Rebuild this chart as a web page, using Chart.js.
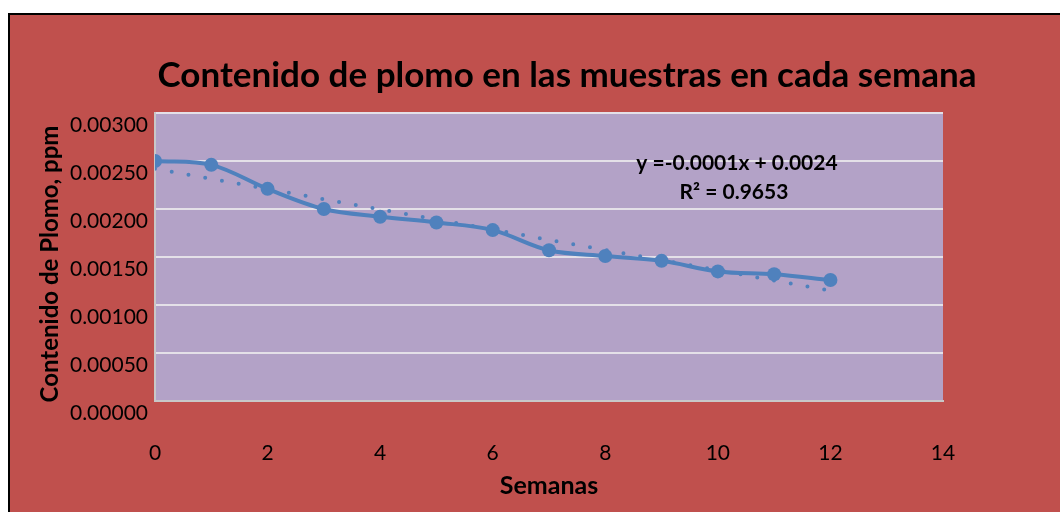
<!DOCTYPE html>
<html>
<head>
<meta charset="utf-8">
<script src="https://cdn.jsdelivr.net/npm/chart.js@4.4.1/dist/chart.umd.min.js"></script>
<style>
  html, body { margin: 0; padding: 0; background: #ffffff; overflow: hidden; }
  #marco {
    position: absolute; left: 8px; top: 13px;
    width: 1050px; height: 497px;
    border-top: 2px solid #000; border-left: 2px solid #000;
    background: #C0504D;
  }
  #grafica { display: block; }
</style>
</head>
<body>
<div id="marco"><canvas id="grafica" width="1050" height="497"></canvas></div>
<script>
// Datos
const semanas = [0, 1, 2, 3, 4, 5, 6, 7, 8, 9, 10, 11, 12];
const plomo = [0.00250, 0.00246, 0.00221, 0.00200, 0.00192, 0.00186, 0.00178,
               0.00157, 0.00151, 0.00146, 0.00135, 0.00132, 0.00126];
const tendenciaX = [0, 12];
const tendenciaY = [0.00242, 0.00115];
const titulo = 'Contenido de plomo en las muestras en cada semana';
const tituloY = 'Contenido de Plomo, ppm';
const ecuacion = ['y =-0.0001x + 0.0024', 'R² = 0.9653'];

const azul = '#4F81BD';

// Fondo lila del área de trazado, títulos y texto de la ecuación
const fondoArea = {
    id: 'fondoArea',
    beforeDraw(chart) {
        const { ctx, chartArea: a } = chart;
        ctx.save();
        ctx.fillStyle = '#B3A2C7';
        ctx.fillRect(a.left, a.top, a.right - a.left, a.bottom - a.top);
        ctx.fillStyle = '#000';
        ctx.textAlign = 'center';
        ctx.textBaseline = 'middle';
        ctx.font = 'bold 35px Lato';
        ctx.fillText(titulo, 557, 61);
        // título del eje Y, girado
        ctx.translate(40, 249);
        ctx.rotate(-Math.PI / 2);
        ctx.font = 'bold 24px Lato';
        ctx.fillText(tituloY, 0, 0);
        ctx.restore();
    },
    afterDatasetsDraw(chart) {
        const { ctx } = chart;
        const x = chart.scales.x.getPixelForValue(10.34);
        const y = chart.scales.y.getPixelForValue(0.00248);
        ctx.save();
        ctx.fillStyle = '#000';
        ctx.font = 'bold 21px Lato';
        ctx.textAlign = 'center';
        ctx.textBaseline = 'middle';
        ctx.fillText(ecuacion[0], x, y);
        ctx.fillText(ecuacion[1], x - 3, y + 29);
        ctx.restore();
    }
};

const ctx = document.getElementById('grafica').getContext('2d');
new Chart(ctx, {
    type: 'scatter',
    data: {
        datasets: [
            {
                data: semanas.map((s, i) => ({ x: s, y: plomo[i] })),
                showLine: true,
                borderColor: azul,
                backgroundColor: azul,
                borderWidth: 4,
                pointRadius: 7,
                pointBorderWidth: 0,
                tension: 0.35,
            },
            {
                data: tendenciaX.map((s, i) => ({ x: s, y: tendenciaY[i] })),
                showLine: true,
                borderColor: azul,
                borderWidth: 4,
                borderDash: [0, 17],
                borderCapStyle: 'round',
                pointRadius: 0,
            },
        ],
    },
    options: {
        responsive: false,
        animation: false,
        layout: { padding: { left: 0, right: 117, top: 98, bottom: 0 } },
        plugins: {
            legend: { display: false },
            tooltip: { enabled: false },
            title: { display: false },
        },
        scales: {
            x: {
                type: 'linear',
                min: 0,
                max: 14,
                grid: { display: false },
                border: { display: true, color: '#C8C8C8', width: 2 },
                ticks: {
                    stepSize: 2,
                    color: '#000',
                    padding: 32,
                    font: { family: 'Lato', size: 21 },
                },
                title: {
                    display: true,
                    text: 'Semanas',
                    color: '#000',
                    font: { family: 'Lato', size: 25, weight: 'bold' },
                    padding: { top: 0, bottom: 11 },
                },
                afterFit: (s) => { s.height = 111; },
            },
            y: {
                min: 0,
                max: 0.003,
                grid: { color: '#E4E0E8', lineWidth: 2, drawTicks: false },
                border: { display: true, color: '#C8C8C8', width: 2 },
                ticks: {
                    stepSize: 0.0005,
                    color: '#000',
                    padding: 7,
                    labelOffset: 12,
                    font: { family: 'Lato', size: 21 },
                    callback: (v) => v.toFixed(5),
                },
                afterFit: (s) => { s.width = 145; },
            },
        },
    },
    plugins: [fondoArea],
});
</script>
</body>
</html>
